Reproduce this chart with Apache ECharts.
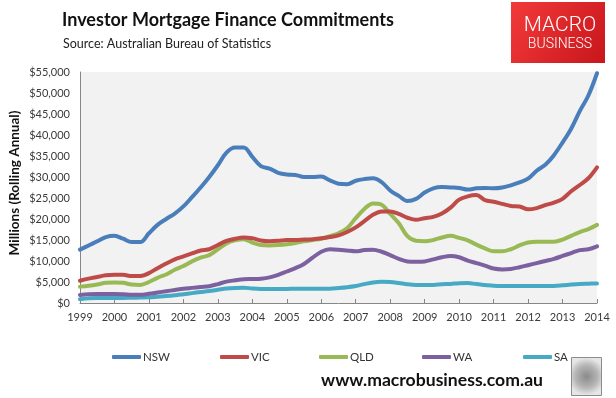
<!DOCTYPE html>
<html>
<head>
<meta charset="utf-8">
<script src="https://cdn.jsdelivr.net/npm/echarts@6/dist/echarts.min.js"></script>
<style>
html,body{margin:0;padding:0;background:#fff;}
#chart{width:616px;height:398px;}
</style>
</head>
<body>
<div id="chart"></div>
<script>
// Quarterly readings, 1999 Q1 .. 2014 Q1 (61 points), $ millions rolling annual
const startYear = 1999;
const endYear = 2014;
const quarters = [];
for (let i = 0; i <= (endYear - startYear) * 4; i++) quarters.push(startYear + i / 4);

const seriesNames = ['NSW', 'VIC', 'QLD', 'WA', 'SA'];

const nsw = [12700,13700,14700,15700,16000,15300,14500,14500,16600,18600,20000,21300,
  23000,25200,27500,30000,32800,35800,37000,37000,34800,32600,32000,31000,
  30600,30500,30000,30000,30100,29200,28400,28300,29100,29500,29700,28800,
  26800,25500,24300,24800,26300,27300,27600,27500,27400,27000,27300,27400,
  27300,27500,28000,28700,29600,31500,32900,35200,38200,41500,45700,49400,54700];

const vic = [5300,5800,6200,6600,6700,6700,6400,6400,7100,8300,9400,10400,
  11100,11800,12500,12800,13800,14800,15300,15600,15400,14900,14700,14800,
  15000,15000,15100,15200,15400,15700,16100,16900,18000,19500,21000,21800,
  21800,21200,20300,19800,20200,20500,21300,22700,24600,25400,25700,24500,
  24100,23600,23100,23000,22300,22600,23300,23900,24800,26600,28100,29700,32300];

const qld = [3900,4100,4400,4800,4900,4800,4400,4300,5000,6000,6800,7900,
  8800,9900,10800,11400,12800,14200,14900,15200,14400,13800,13700,13800,
  14000,14300,14700,15000,15300,15900,16600,17800,20200,22400,23700,23400,
  21200,19000,15900,14800,14700,15000,15600,16000,15500,14900,13900,13000,
  12300,12300,12800,13700,14400,14600,14600,14600,15100,16000,16900,17600,18600];

const wa = [1900,2100,2150,2150,2150,2100,1950,1950,2200,2500,2800,3100,
  3400,3600,3800,4000,4500,5100,5400,5650,5700,5800,6100,6700,
  7500,8300,9300,10800,12200,12800,12700,12500,12300,12600,12700,12200,
  11400,10500,9900,9800,9900,10400,10900,11200,10900,10100,9500,8900,
  8200,8000,8100,8500,9000,9500,10000,10500,11200,11900,12600,12800,13500];

const sa = [900,1100,1200,1200,1200,1200,1250,1300,1350,1500,1650,1850,
  2100,2350,2600,2850,3150,3450,3600,3650,3450,3350,3350,3350,
  3350,3400,3400,3400,3400,3400,3550,3750,4050,4500,4900,5050,
  5000,4750,4450,4300,4300,4300,4450,4550,4700,4750,4500,4300,
  4100,4050,4050,4050,4050,4050,4050,4050,4200,4400,4550,4600,4650];

const seriesValues = [nsw, vic, qld, wa, sa];
const colors = ['#4A7EBB', '#BE4B48', '#98B954', '#7D60A0', '#46AAC5'];
const yMax = 55000;
const yStep = 5000;

const legendLeft = [107, 215, 314, 417, 518];

const chart = echarts.init(document.getElementById('chart'), null, {renderer: 'canvas'});

const fontMain = 'Lato, "Open Sans", sans-serif';

const option = {
  animation: false,
  backgroundColor: '#ffffff',
  color: colors,
  grid: {left: 80, right: 19, top: 72, bottom: 95, show: true, backgroundColor: '#F2F2F2', borderWidth: 0},
  xAxis: {
    type: 'value', min: startYear, max: endYear, interval: 1,
    axisLine: {show: true, lineStyle: {color: '#868686', width: 1}},
    axisTick: {show: true, inside: true, length: 4, lineStyle: {color: '#868686'}},
    splitLine: {show: false},
    axisLabel: {color: '#3a3a3a', fontFamily: fontMain, fontSize: 11, margin: 9, formatter: v => String(v)}
  },
  yAxis: {
    type: 'value', min: 0, max: yMax, interval: yStep,
    axisLine: {show: true, lineStyle: {color: '#868686', width: 1}},
    axisTick: {show: false},
    splitLine: {show: false},
    axisLabel: {color: '#3a3a3a', fontFamily: fontMain, fontSize: 11, margin: 10,
      formatter: v => '$' + v.toLocaleString('en-US')}
  },
  legend: seriesNames.map((n, i) => ({
    data: [n], left: legendLeft[i], top: 346, icon: 'roundRect',
    itemWidth: 29, itemHeight: 4, itemGap: 0,
    textStyle: {color: '#333', fontFamily: fontMain, fontSize: 11.5, padding: [0, 0, 0, -3]}
  })),
  series: seriesNames.map((n, i) => ({
    name: n, type: 'line', showSymbol: false, symbol: 'none', smooth: 0.35,
    lineStyle: {width: 4, color: colors[i], cap: 'round', join: 'round'},
    itemStyle: {color: colors[i]},
    data: quarters.map((q, k) => [q, seriesValues[i][k]]),
    z: 10 - i
  })),
  graphic: [
    {type: 'text', left: 62, top: 11, style: {text: 'Investor Mortgage Finance Commitments', fill: '#111', font: 'bold 18px ' + fontMain}},
    {type: 'text', left: 63, top: 37, style: {text: 'Source: Australian Bureau of Statistics', fill: '#222', font: '12.5px ' + fontMain}},
    {type: 'rect', shape: {x: 511, y: 2, width: 94, height: 61},
      style: {fill: new echarts.graphic.LinearGradient(0, 0, 1, 1, [{offset: 0, color: '#F23A3A'}, {offset: 1, color: '#C8161B'}])}},
    {type: 'text', x: 560, y: 26, style: {text: 'MACRO', fill: '#fff', font: '300 21px Roboto, sans-serif', align: 'center', verticalAlign: 'middle'}},
    {type: 'text', x: 560, y: 44, style: {text: 'BUSINESS', fill: '#fff', font: '300 14px Roboto, sans-serif', align: 'center', verticalAlign: 'middle'}},
    {type: 'text', x: 15, y: 183, rotation: Math.PI / 2,
      style: {text: 'Millions (Rolling Annual)', fill: '#111', font: 'bold 13.5px ' + fontMain, align: 'center', verticalAlign: 'middle'}},
    {type: 'text', x: 432, y: 380, style: {text: 'www.macrobusiness.com.au', fill: '#111', font: 'bold 17.6px ' + fontMain, align: 'center', verticalAlign: 'middle'}},
    {type: 'rect', shape: {x: 571.5, y: 357.5, width: 30, height: 38},
      style: {fill: new echarts.graphic.RadialGradient(0.5, 0.5, 0.6, [{offset: 0, color: '#8a8a8a'}, {offset: 0.6, color: '#b5b5b5'}, {offset: 1, color: '#e6e6e6'}]), stroke: '#8c8c8c', lineWidth: 1}}
  ]
};

chart.setOption(option);
</script>
</body>
</html>
